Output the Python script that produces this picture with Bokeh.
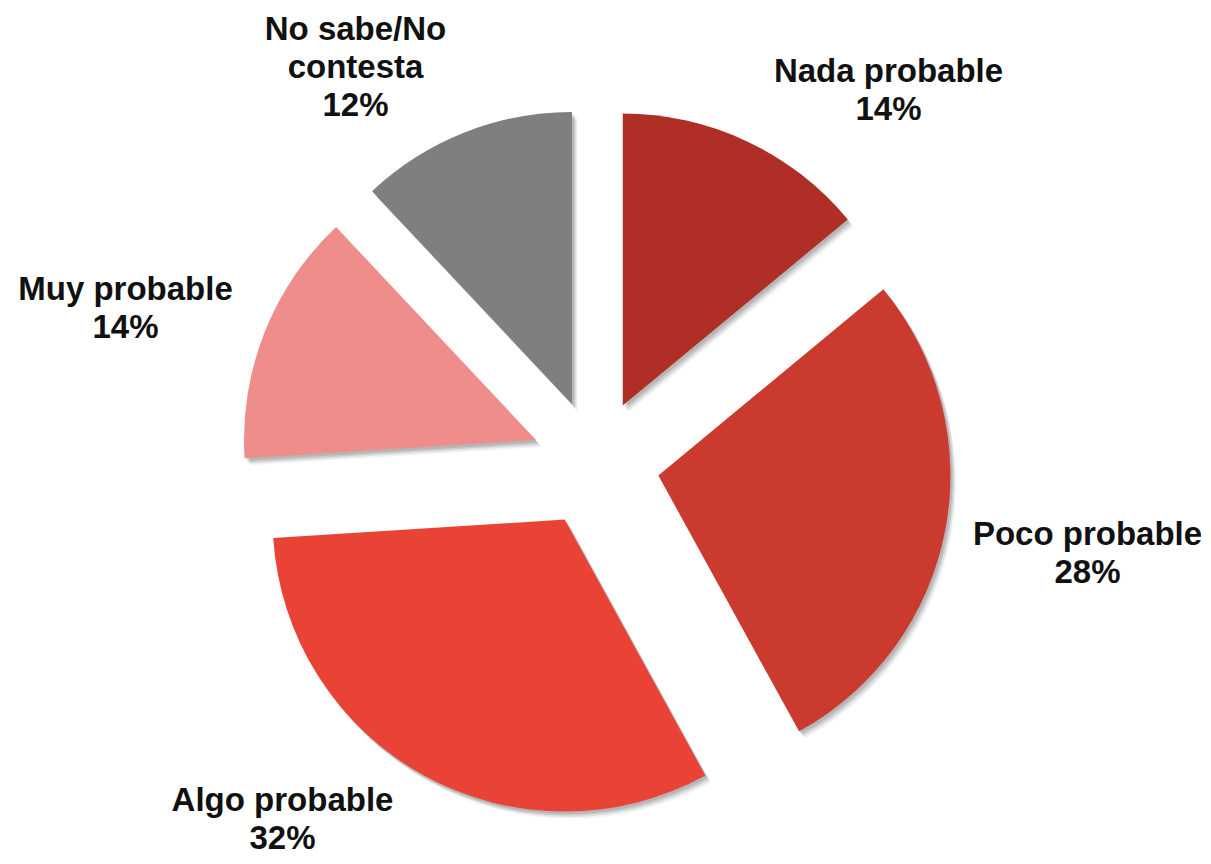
import numpy as np
from bokeh.plotting import figure
from bokeh.models import Range1d, ColumnDataSource
from bokeh.core.properties import value
from bokeh.embed import file_html
from bokeh.resources import INLINE

# ---- data ----
categories = ["Nada probable", "Poco probable", "Algo probable", "Muy probable", "No sabe/No contesta"]
label_lines = [["Nada probable"], ["Poco probable"], ["Algo probable"], ["Muy probable"], ["No sabe/No", "contesta"]]
values = [14, 28, 32, 14, 12]
colors = ["#AF2F26", "#CB3A2F", "#E94336", "#EE8D8A", "#7F7F7F"]

# ---- layout (screen-like coordinates: y up, data y = 864 - screen y) ----
W, H = 1203, 856
CX, CY = 595, 864 - 463
R = 292
EXPLODE = 64
# label anchor: center x, baseline of last line (screen y)
label_pos = [(888, 119), (1087, 582), (282, 848), (125, 337), (355, 115)]
LINE_H = 38
TEXT_SHIFT = 11  # compensation for rendered baseline

vals = np.array(values, dtype=float)
frac = vals / vals.sum()
cum_end = np.cumsum(frac)
cum_start = cum_end - frac
start = np.pi / 2 - cum_start * 2 * np.pi
end = np.pi / 2 - cum_end * 2 * np.pi
mid = (start + end) / 2
xs = CX + EXPLODE * np.cos(mid)
ys = CY + EXPLODE * np.sin(mid)

p = figure(width=W, height=H, output_backend="svg", toolbar_location=None,
           x_range=Range1d(0, W), y_range=Range1d(864 - H, 864), min_border=0)
p.axis.visible = False
p.grid.visible = False
p.outline_line_color = None
p.background_fill_color = "white"
p.border_fill_color = "white"

# soft shadow layers
for off, a in [(7, 0.05), (5.5, 0.07), (4, 0.09), (2.5, 0.10)]:
    p.wedge(x=xs + off * 0.8, y=ys - off, radius=R, start_angle=start, end_angle=end,
            direction="clock", fill_color="black", fill_alpha=a, line_color=None)

src = ColumnDataSource(dict(x=xs, y=ys, start=start, end=end, color=colors, cat=categories, val=values))
p.wedge(x="x", y="y", radius=R, start_angle="start", end_angle="end", direction="clock",
        fill_color="color", line_color=None, source=src)

# labels
tx, ty, tt = [], [], []
for (lx, lb), lines, v in zip(label_pos, label_lines, values):
    all_lines = lines + [f"{v}%"]
    n = len(all_lines)
    for i, t in enumerate(all_lines):
        tx.append(lx)
        ty.append(864 - (lb - TEXT_SHIFT - (n - 1 - i) * LINE_H))
        tt.append(t)
p.text(x=tx, y=ty, text=tt, text_font=value("Liberation Sans"), text_font_style="bold",
       text_font_size="33px", text_align="center", text_baseline="alphabetic", text_color="#111111")

open("out.html", "w").write(file_html(p, INLINE))
